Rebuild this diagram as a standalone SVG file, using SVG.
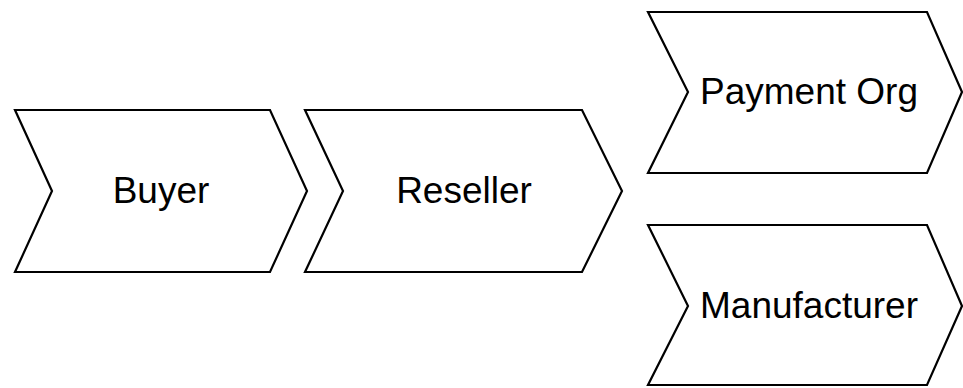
<svg xmlns="http://www.w3.org/2000/svg" width="963" height="388" viewBox="0 0 963 388">
<style>
.s{fill:#fff;stroke:#000;stroke-width:2.2;stroke-linejoin:miter}
.t{font-family:"Liberation Sans",Arial,sans-serif;font-size:37px;fill:#000;text-anchor:middle}
</style>
<rect width="963" height="388" fill="#fff"/>
<g id="buyer">
<polygon class="s" points="15,110 270,110 307,191 270,272 15,272 52,191"/>
<text class="t" x="161" y="203">Buyer</text>
</g>
<g id="reseller">
<polygon class="s" points="305,110 582,110 622,191 582,272 305,272 343,191"/>
<text class="t" x="464" y="203">Reseller</text>
</g>
<g id="payment-org">
<polygon class="s" points="648,12 927,12 962,92 927,173 648,173 688,92"/>
<text class="t" x="809" y="104">Payment Org</text>
</g>
<g id="manufacturer">
<polygon class="s" points="648,225 927,225 962,306 927,385 648,385 688,306"/>
<text class="t" x="809" y="318">Manufacturer</text>
</g>
<g id="connectors"></g>
</svg>
